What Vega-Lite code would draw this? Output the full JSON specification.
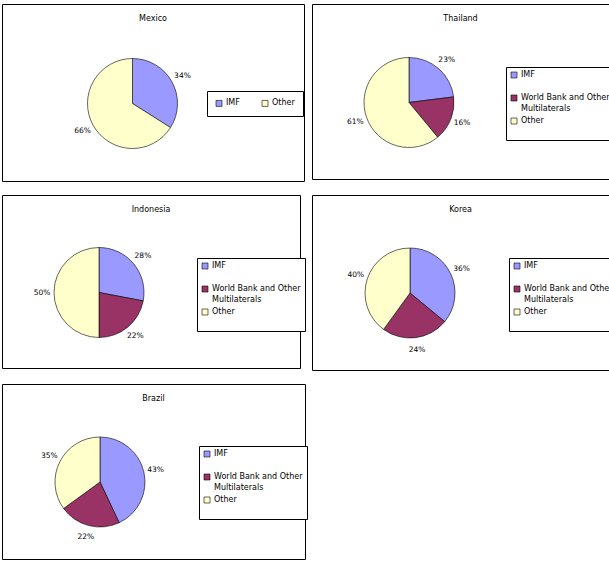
{
  "$schema": "https://vega.github.io/schema/vega-lite/v6.json",
  "padding": {"left": 1, "top": 3, "right": 0, "bottom": 0},
  "background": "white",
  "data": {"values": [
    {"country": "Mexico", "source": "IMF", "k": 1, "share": 0.34},
    {"country": "Mexico", "source": "Other", "k": 3, "share": 0.66},
    {"country": "Thailand", "source": "IMF", "k": 1, "share": 0.23},
    {"country": "Thailand", "source": "World Bank and Other Multilaterals", "k": 2, "share": 0.16},
    {"country": "Thailand", "source": "Other", "k": 3, "share": 0.61},
    {"country": "Indonesia", "source": "IMF", "k": 1, "share": 0.28},
    {"country": "Indonesia", "source": "World Bank and Other Multilaterals", "k": 2, "share": 0.22},
    {"country": "Indonesia", "source": "Other", "k": 3, "share": 0.50},
    {"country": "Korea", "source": "IMF", "k": 1, "share": 0.36},
    {"country": "Korea", "source": "World Bank and Other Multilaterals", "k": 2, "share": 0.24},
    {"country": "Korea", "source": "Other", "k": 3, "share": 0.40},
    {"country": "Brazil", "source": "IMF", "k": 1, "share": 0.43},
    {"country": "Brazil", "source": "World Bank and Other Multilaterals", "k": 2, "share": 0.22},
    {"country": "Brazil", "source": "Other", "k": 3, "share": 0.35}
  ]},
  "spacing": 12,
  "resolve": {"scale": {"color": "independent"}, "legend": {"color": "independent"}},
  "vconcat": [
    {
      "spacing": 8,
      "bounds": "flush",
      "resolve": {"scale": {"color": "independent"}, "legend": {"color": "independent"}},
      "hconcat": [
        {
          "width": 302, "height": 177,
          "view": {"stroke": "#000000", "strokeWidth": 1},
          "title": {"text": "Mexico", "offset": -18.5},
          "transform": [{"filter": "datum.country === 'Mexico'"}],
          "encoding": {
            "theta": {"field": "share", "type": "quantitative", "stack": true},
            "order": {"field": "k", "type": "ordinal"}
          },
          "layer": [
            {"mark": {"type": "arc", "outerRadius": 45, "xOffset": -20.5, "yOffset": 11, "stroke": "#000000", "strokeWidth": 0.6},
             "encoding": {"color": {"field": "source", "type": "nominal",
               "scale": {"domain": ["IMF", "Other"], "range": ["#9999FF", "#FFFFCC"]},
               "legend": {"orient": "none", "legendX": 205, "legendY": 87, "direction": "horizontal", "columns": 2, "columnPadding": 20, "padding": 8}}}},
            {"mark": {"type": "text", "radius": 57, "xOffset": -20.5, "yOffset": 11, "fontSize": 7.5, "font": "DejaVu Sans", "color": "#000000"},
             "encoding": {"text": {"field": "share", "type": "quantitative", "format": ".0%"}}}
          ]
        },
        {
          "width": 297, "height": 175,
          "view": {"stroke": "#000000", "strokeWidth": 1},
          "title": {"text": "Thailand", "offset": -18.5},
          "transform": [{"filter": "datum.country === 'Thailand'"}],
          "encoding": {
            "theta": {"field": "share", "type": "quantitative", "stack": true},
            "order": {"field": "k", "type": "ordinal"}
          },
          "layer": [
            {"mark": {"type": "arc", "outerRadius": 45, "xOffset": -51.5, "yOffset": 11, "stroke": "#000000", "strokeWidth": 0.6},
             "encoding": {"color": {"field": "source", "type": "nominal",
               "scale": {"domain": ["IMF", "World Bank and Other Multilaterals", "Other"], "range": ["#9999FF", "#993366", "#FFFFCC"]},
               "legend": {"orient": "none", "legendX": 194, "legendY": 63,
                 "labelExpr": "datum.label == 'World Bank and Other Multilaterals' ? ['World Bank and Other', 'Multilaterals'] : [datum.label, ' ']",
                 "encode": {"labels": {"update": {"baseline": {"value": "top"}, "dy": {"value": -4.5}, "lineHeight": {"value": 11}}}}}}}},
            {"mark": {"type": "text", "radius": 57, "xOffset": -51.5, "yOffset": 11, "fontSize": 7.5, "font": "DejaVu Sans", "color": "#000000"},
             "encoding": {"text": {"field": "share", "type": "quantitative", "format": ".0%"}}}
          ]
        }
      ]
    },
    {
      "spacing": 12,
      "bounds": "flush",
      "resolve": {"scale": {"color": "independent"}, "legend": {"color": "independent"}},
      "hconcat": [
        {
          "width": 298, "height": 173,
          "view": {"stroke": "#000000", "strokeWidth": 1},
          "title": {"text": "Indonesia", "offset": -18.5},
          "transform": [{"filter": "datum.country === 'Indonesia'"}],
          "encoding": {
            "theta": {"field": "share", "type": "quantitative", "stack": true},
            "order": {"field": "k", "type": "ordinal"}
          },
          "layer": [
            {"mark": {"type": "arc", "outerRadius": 45, "xOffset": -52, "yOffset": 11, "stroke": "#000000", "strokeWidth": 0.6},
             "encoding": {"color": {"field": "source", "type": "nominal",
               "scale": {"domain": ["IMF", "World Bank and Other Multilaterals", "Other"], "range": ["#9999FF", "#993366", "#FFFFCC"]},
               "legend": {"orient": "none", "legendX": 195, "legendY": 63,
                 "labelExpr": "datum.label == 'World Bank and Other Multilaterals' ? ['World Bank and Other', 'Multilaterals'] : [datum.label, ' ']",
                 "encode": {"labels": {"update": {"baseline": {"value": "top"}, "dy": {"value": -4.5}, "lineHeight": {"value": 11}}}}}}}},
            {"mark": {"type": "text", "radius": 57, "xOffset": -52, "yOffset": 11, "fontSize": 7.5, "font": "DejaVu Sans", "color": "#000000"},
             "encoding": {"text": {"field": "share", "type": "quantitative", "format": ".0%"}}}
          ]
        },
        {
          "width": 297, "height": 175,
          "view": {"stroke": "#000000", "strokeWidth": 1},
          "title": {"text": "Korea", "offset": -18.5},
          "transform": [{"filter": "datum.country === 'Korea'"}],
          "encoding": {
            "theta": {"field": "share", "type": "quantitative", "stack": true},
            "order": {"field": "k", "type": "ordinal"}
          },
          "layer": [
            {"mark": {"type": "arc", "outerRadius": 45, "xOffset": -50.5, "yOffset": 10.5, "stroke": "#000000", "strokeWidth": 0.6},
             "encoding": {"color": {"field": "source", "type": "nominal",
               "scale": {"domain": ["IMF", "World Bank and Other Multilaterals", "Other"], "range": ["#9999FF", "#993366", "#FFFFCC"]},
               "legend": {"orient": "none", "legendX": 197, "legendY": 63,
                 "labelExpr": "datum.label == 'World Bank and Other Multilaterals' ? ['World Bank and Other', 'Multilaterals'] : [datum.label, ' ']",
                 "encode": {"labels": {"update": {"baseline": {"value": "top"}, "dy": {"value": -4.5}, "lineHeight": {"value": 11}}}}}}}},
            {"mark": {"type": "text", "radius": 57, "xOffset": -50.5, "yOffset": 10.5, "fontSize": 7.5, "font": "DejaVu Sans", "color": "#000000"},
             "encoding": {"text": {"field": "share", "type": "quantitative", "format": ".0%"}}}
          ]
        }
      ]
    },
    {
      "width": 303, "height": 175,
      "view": {"stroke": "#000000", "strokeWidth": 1},
      "title": {"text": "Brazil", "offset": -18.5},
      "transform": [{"filter": "datum.country === 'Brazil'"}],
      "encoding": {
        "theta": {"field": "share", "type": "quantitative", "stack": true},
        "order": {"field": "k", "type": "ordinal"}
      },
      "layer": [
        {"mark": {"type": "arc", "outerRadius": 45, "xOffset": -53.5, "yOffset": 10.5, "stroke": "#000000", "strokeWidth": 0.6},
         "encoding": {"color": {"field": "source", "type": "nominal",
           "scale": {"domain": ["IMF", "World Bank and Other Multilaterals", "Other"], "range": ["#9999FF", "#993366", "#FFFFCC"]},
           "legend": {"orient": "none", "legendX": 197, "legendY": 62,
             "labelExpr": "datum.label == 'World Bank and Other Multilaterals' ? ['World Bank and Other', 'Multilaterals'] : [datum.label, ' ']",
             "encode": {"labels": {"update": {"baseline": {"value": "top"}, "dy": {"value": -4.5}, "lineHeight": {"value": 11}}}}}}}},
        {"mark": {"type": "text", "radius": 57, "xOffset": -53.5, "yOffset": 10.5, "fontSize": 7.5, "font": "DejaVu Sans", "color": "#000000"},
         "encoding": {"text": {"field": "share", "type": "quantitative", "format": ".0%"}}}
      ]
    }
  ],
  "config": {
    "view": {"stroke": "#000000", "strokeWidth": 1},
    "title": {"font": "DejaVu Sans", "fontSize": 8, "fontWeight": "normal", "color": "#000000", "anchor": "middle"},
    "legend": {
      "title": null,
      "labelFont": "DejaVu Sans", "labelFontSize": 8, "labelColor": "#000000", "labelLimit": 200,
      "symbolType": "square", "symbolSize": 36, "symbolStrokeColor": "#000000", "symbolStrokeWidth": 0.6, "symbolOpacity": 1,
      "fillColor": "#FFFFFF", "strokeColor": "#000000", "padding": 4, "rowPadding": 3, "labelOffset": 3
    }
  }
}
